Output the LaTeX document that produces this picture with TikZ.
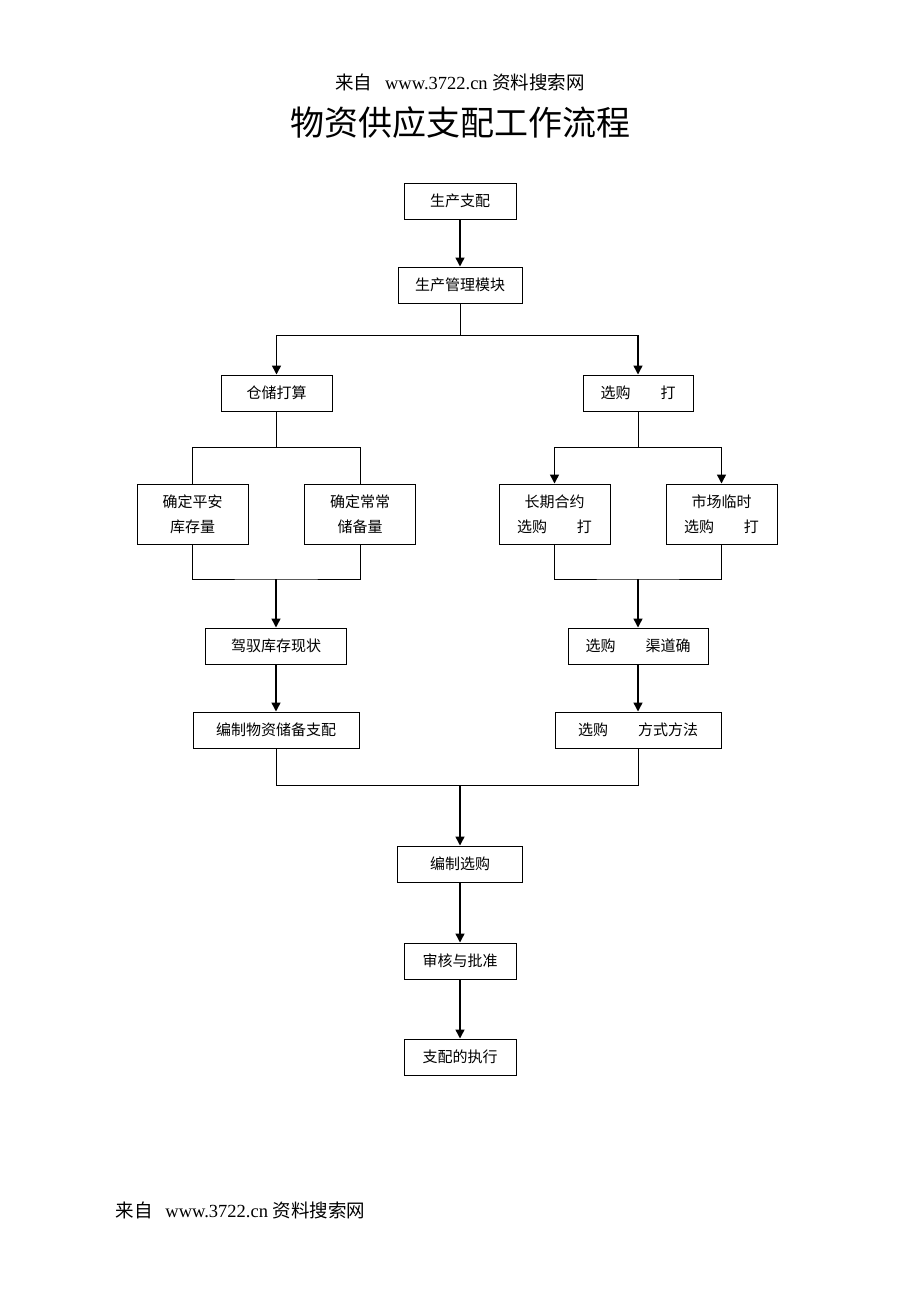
\documentclass[tikz,border=0pt]{standalone}
\usepackage{fontspec}
\setmainfont{Liberation Serif}
\newfontfamily\cjk{Noto Sans CJK SC}
\usetikzlibrary{arrows.meta}
\tikzset{
  box/.style={draw, line width=1pt, inner sep=0pt, minimum height=36pt, align=center,
    font=\cjk\fontsize{15}{25}\selectfont},
  tall/.style={minimum height=60pt, minimum width=111pt},
  link/.style={line width=1pt},
  arr/.style={line width=1.5pt, -{Triangle[length=9pt,width=9pt]}},
  src/.style={font=\fontsize{18.5}{22}\selectfont},
}
\newcommand{\srcline}{{\cjk 来自}\hspace{0.7em}www.3722.cn {\cjk 资料搜索网}}
\begin{document}
\begin{tikzpicture}[x=1pt,y=-1pt]
\useasboundingbox (0,0) rectangle (920,1302);
% header / title / footer
\node[src] (hdr) at (460,82) {\srcline};
\node (ttl) at (460,123) {\cjk\fontsize{34}{36}\selectfont 物资供应支配工作流程};
\node[src, anchor=west] (ftr) at (112,1210) {\srcline};
% boxes
\node[box, minimum width=112pt] (sc) at (460,201) {生产支配};
\node[box, minimum width=124pt] (pm) at (460,285) {生产管理模块};
\node[box, minimum width=111pt] (cc) at (276.5,393) {仓储打算};
\node[box, minimum width=110pt] (cg) at (638,393) {选购\hspace{2em}打};
\node[box, tall] (a1) at (192.5,514) {确定平安\\库存量};
\node[box, tall] (a2) at (360,514) {确定常常\\储备量};
\node[box, tall] (b1) at (554.5,514) {长期合约\\选购\hspace{2em}打};
\node[box, tall] (b2) at (721.5,514) {市场临时\\选购\hspace{2em}打};
\node[box, minimum width=141pt] (kc) at (276,646) {驾驭库存现状};
\node[box, minimum width=166pt] (bz) at (276,730) {编制物资储备支配};
\node[box, minimum width=140pt] (qd) at (638,646) {选购\hspace{2em}渠道确};
\node[box, minimum width=166pt] (fs) at (638,730) {选购\hspace{2em}方式方法};
\node[box, minimum width=125pt] (bg) at (460,864) {编制选购};
\node[box, minimum width=112pt] (sh) at (460,961) {审核与批准};
\node[box, minimum width=112pt] (zx) at (460,1057) {支配的执行};
% connectors
\draw[arr] (sc) -- (pm);
\draw[link] (pm.south) -- ++(0,32) coordinate (j1);
\draw[arr] (j1) -| (cc.north);
\draw[arr] (j1) -| (cg.north);
\draw[link] (cc.south) -- ++(0,36) coordinate (j2);
\draw[link] (j2) -| (a1.north);
\draw[link] (j2) -| (a2.north);
\draw[link] (cg.south) -- ++(0,36) coordinate (j3);
\draw[arr] (j3) -| (b1.north);
\draw[arr] (j3) -| (b2.north);
\coordinate (j4) at (kc.north |- 0,579);
\draw[link] (a1.south) |- (j4) -| (a2.south);
\draw[arr] (j4) -- (kc.north);
\coordinate (j5) at (qd.north |- 0,579);
\draw[link] (b1.south) |- (j5) -| (b2.south);
\draw[arr] (j5) -- (qd.north);
\draw[arr] (kc) -- (bz);
\draw[arr] (qd) -- (fs);
\coordinate (j6) at (bg.north |- 0,785);
\draw[link] (bz.south) |- (j6) -| (fs.south);
\draw[arr] (j6) -- (bg.north);
\draw[arr] (bg) -- (sh);
\draw[arr] (sh) -- (zx);
\end{tikzpicture}
\end{document}
